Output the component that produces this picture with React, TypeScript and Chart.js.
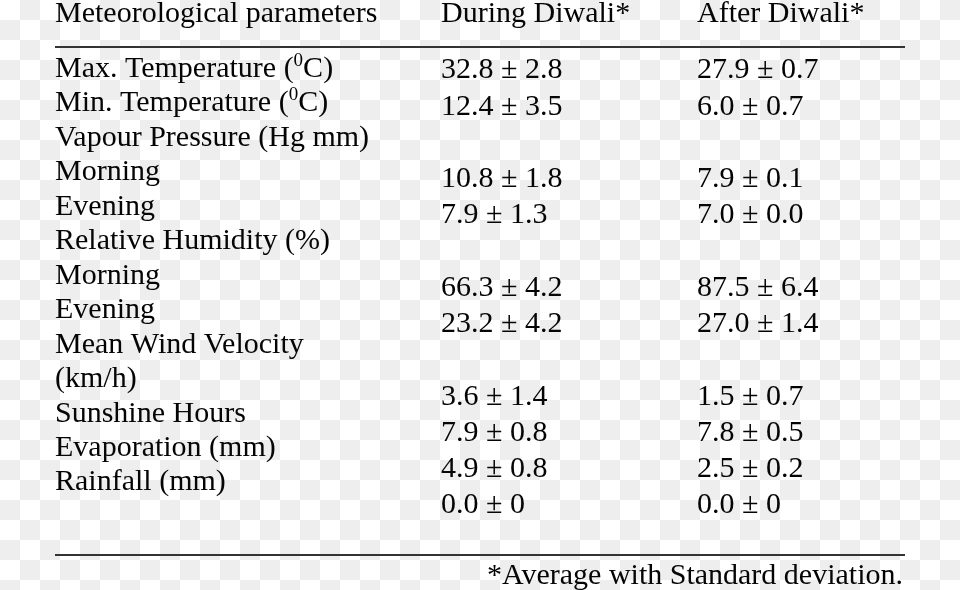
import React, { useEffect, useRef } from "react";
import { Chart, registerables } from "chart.js";

Chart.register(...registerables);

// ---- data ----
const headerLabels = ["Meteorological parameters", "During Diwali*", "After Diwali*"];
const rowLabels = [
  "Max. Temperature (^0C)",
  "Min. Temperature (^0C)",
  "Vapour Pressure (Hg mm)",
  "Morning",
  "Evening",
  "Relative Humidity (%)",
  "Morning",
  "Evening",
  "Mean Wind Velocity",
  "(km/h)",
  "Sunshine Hours",
  "Evaporation (mm)",
  "Rainfall (mm)",
];
// values placed in row slots (null = empty slot)
const duringMean: (string | null)[] = ["32.8", "12.4", null, "10.8", "7.9", null, "66.3", "23.2", null, "3.6", "7.9", "4.9", "0.0"];
const duringSd: (string | null)[] = ["2.8", "3.5", null, "1.8", "1.3", null, "4.2", "4.2", null, "1.4", "0.8", "0.8", "0"];
const afterMean: (string | null)[] = ["27.9", "6.0", null, "7.9", "7.0", null, "87.5", "27.0", null, "1.5", "7.8", "2.5", "0.0"];
const afterSd: (string | null)[] = ["0.7", "0.7", null, "0.1", "0.0", null, "6.4", "1.4", null, "0.7", "0.5", "0.2", "0"];
const footnote = "*Average with Standard deviation.";

// ---- layout / style ----
const W = 960;
const H = 590;
const COL_X = { label: 0, during: 386, after: 642 };
const TABLE_W = 850;
const LABEL_FIRST = 77;
const LABEL_PITCH = 34.45;
const VALUE_FIRST = 78.3;
const VALUE_PITCH = 36.25;
const HEADER_ROW = -1.597;
const RULE_ROWS = [-0.885, 13.875];
const FOOTER_ROW = 14.731;
const FONT = '30px "Liberation Serif", "Times New Roman", serif';
const SUP_FONT = '19px "Liberation Serif", "Times New Roman", serif';
const SUP_RAISE = 11;
const TEXT_COLOR = "#050505";
const RULE_COLOR = "#333333";

function drawLabel(ctx: CanvasRenderingContext2D, text: string, x: number, y: number) {
  const parts = text.split("^");
  let cx = x;
  parts.forEach((p, idx) => {
    if (idx === 0) {
      ctx.font = FONT;
      ctx.fillText(p, cx, y);
      cx += ctx.measureText(p).width;
    } else {
      const sup = p.charAt(0);
      const rest = p.slice(1);
      ctx.font = SUP_FONT;
      ctx.fillText(sup, cx, y - SUP_RAISE);
      cx += ctx.measureText(sup).width;
      ctx.font = FONT;
      ctx.fillText(rest, cx, y);
      cx += ctx.measureText(rest).width;
    }
  });
}

const tablePlugin = {
  id: "tablePlugin",
  beforeDraw(chart: any) {
    const ctx = chart.ctx as CanvasRenderingContext2D;
    ctx.save();
    ctx.fillStyle = "#ffffff";
    ctx.fillRect(0, 0, chart.width, chart.height);
    ctx.fillStyle = "#eeeeee";
    const s = 20;
    for (let j = 0; j * s < chart.height; j++) {
      for (let i = 0; i * s < chart.width; i++) {
        if ((i + j) % 2 === 1) ctx.fillRect(i * s, j * s, s, s);
      }
    }
    ctx.restore();
  },
  afterDatasetsDraw(chart: any) {
    const ctx = chart.ctx as CanvasRenderingContext2D;
    const xs = chart.scales.x;
    const yL = chart.scales.yL;
    ctx.save();
    ctx.fillStyle = TEXT_COLOR;
    ctx.textBaseline = "alphabetic";
    ctx.textAlign = "left";
    ctx.font = FONT;
    // header
    const hy = yL.getPixelForValue(HEADER_ROW);
    const cols = [COL_X.label, COL_X.during, COL_X.after];
    headerLabels.forEach((h, i) => ctx.fillText(h, xs.getPixelForValue(cols[i]), hy));
    // rules
    ctx.strokeStyle = RULE_COLOR;
    ctx.lineWidth = 2;
    RULE_ROWS.forEach((r) => {
      const y = Math.round(yL.getPixelForValue(r));
      ctx.beginPath();
      ctx.moveTo(xs.getPixelForValue(0), y);
      ctx.lineTo(xs.getPixelForValue(TABLE_W), y);
      ctx.stroke();
    });
    // cells
    chart.data.datasets.forEach((ds: any, di: number) => {
      const meta = chart.getDatasetMeta(di);
      meta.data.forEach((el: any, j: number) => {
        drawLabel(ctx, ds.cellText[j], el.x, el.y);
      });
    });
    // footnote
    ctx.font = FONT;
    ctx.textAlign = "right";
    ctx.fillText(footnote, xs.getPixelForValue(TABLE_W) - 2, yL.getPixelForValue(FOOTER_ROW));
    ctx.restore();
  },
};

function valueDataset(means: (string | null)[], sds: (string | null)[], col: number) {
  const pts: { x: number; y: number }[] = [];
  const txt: string[] = [];
  means.forEach((m, i) => {
    if (m !== null) {
      pts.push({ x: col, y: i });
      txt.push(`${m} \u00b1 ${sds[i]}`);
    }
  });
  return { data: pts, cellText: txt, yAxisID: "yV", pointRadius: 0, showLine: false };
}

export default function App() {
  const ref = useRef<HTMLCanvasElement | null>(null);
  useEffect(() => {
    document.body.style.margin = "0";
    if (!ref.current) return;
    const labelDs = {
      data: rowLabels.map((_, i) => ({ x: COL_X.label, y: i })),
      cellText: rowLabels,
      yAxisID: "yL",
      pointRadius: 0,
      showLine: false,
    };
    const chart = new Chart(ref.current, {
      type: "scatter",
      data: {
        datasets: [
          labelDs as any,
          valueDataset(duringMean, duringSd, COL_X.during) as any,
          valueDataset(afterMean, afterSd, COL_X.after) as any,
        ],
      },
      options: {
        responsive: false,
        animation: false,
        events: [],
        layout: { padding: { left: 55, right: 55, top: 0, bottom: 0 } },
        plugins: { legend: { display: false }, tooltip: { enabled: false } },
        scales: {
          x: { type: "linear", min: 0, max: TABLE_W, display: false },
          yL: {
            type: "linear",
            reverse: true,
            display: false,
            min: -LABEL_FIRST / LABEL_PITCH,
            max: (H - LABEL_FIRST) / LABEL_PITCH,
          },
          yV: {
            type: "linear",
            reverse: true,
            display: false,
            min: -VALUE_FIRST / VALUE_PITCH,
            max: (H - VALUE_FIRST) / VALUE_PITCH,
          },
        },
      },
      plugins: [tablePlugin],
    });
    return () => chart.destroy();
  }, []);
  return (
    <div style={{ position: "fixed", left: 0, top: 0, width: W, height: H }}>
      <canvas ref={ref} width={W} height={H} style={{ display: "block", width: W, height: H }} />
    </div>
  );
}
